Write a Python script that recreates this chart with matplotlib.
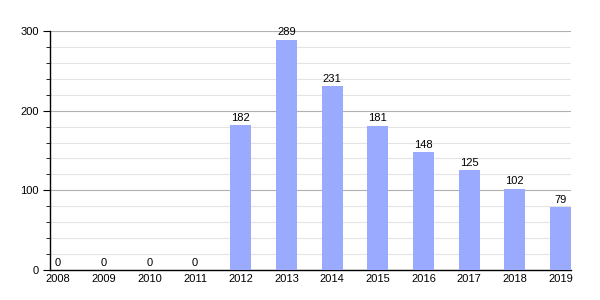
import matplotlib
matplotlib.use("Agg")
import matplotlib.pyplot as plt
from matplotlib.ticker import MultipleLocator

# ---------- 数据 ----------
years = ["2008", "2009", "2010", "2011", "2012", "2013",
         "2014", "2015", "2016", "2017", "2018", "2019"]
counts = [0, 0, 0, 0, 182, 289, 231, 181, 148, 125, 102, 79]

plt.rcParams["font.family"] = ["Liberation Sans", "DejaVu Sans"]

fig = plt.figure(figsize=(6, 3), dpi=100)
ax = fig.add_axes([50 / 600, 30 / 300, 521 / 600, 239 / 300])

x = list(range(len(years)))
bars = ax.bar(x, counts, width=0.46, color="#99aaff", zorder=3)
for xi, v in zip(x, counts):
    ax.text(xi, v + 3, str(v), ha="center", va="bottom", fontsize=8, zorder=4)

ax.set_xlim(-0.175, 11.23)
ax.set_ylim(0, 300)
ax.set_xticks(x)
ax.set_xticklabels(years)
ax.yaxis.set_major_locator(MultipleLocator(100))
ax.yaxis.set_minor_locator(MultipleLocator(20))

ax.grid(axis="y", which="major", color="#b0b0b0", linewidth=0.8, zorder=0)
ax.grid(axis="y", which="minor", color="#e4e4e4", linewidth=0.8, zorder=0)

for s in ("top", "right"):
    ax.spines[s].set_visible(False)
ax.spines["left"].set_linewidth(1.0)
ax.spines["bottom"].set_linewidth(1.0)

ax.tick_params(axis="x", length=0, labelsize=8, pad=3)
ax.tick_params(axis="y", which="major", length=5, labelsize=8, pad=3)
ax.tick_params(axis="y", which="minor", length=3)

fig.savefig("out.png", dpi=100)
